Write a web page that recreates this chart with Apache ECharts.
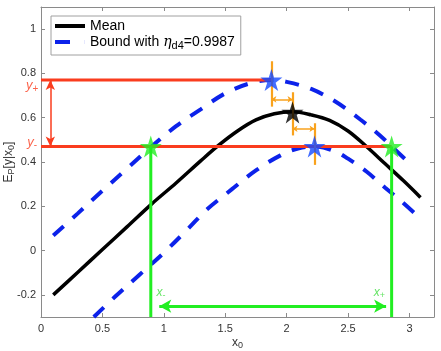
<!DOCTYPE html>
<html><head><meta charset="utf-8">
<script src="https://cdn.jsdelivr.net/npm/echarts@6/dist/echarts.min.js"></script>
<style>html,body{margin:0;padding:0;background:#fff}#c{width:441px;height:351px}</style>
</head><body><div id="c"></div>
<script>
// ---- axes ----
const xMin = 0, xMax = 3.2;
const yMin = -0.3, yMax = 1.1;
const xTicks = [0, 0.5, 1, 1.5, 2, 2.5, 3];
const yTicks = [-0.2, 0, 0.2, 0.4, 0.6, 0.8, 1];

// ---- curves ----
const meanX = [0.1, 0.3, 0.5, 0.7, 0.9, 1.1, 1.3, 1.45, 1.6, 1.75, 1.9, 2.05, 2.2, 2.35, 2.5, 2.65, 2.8, 2.95, 3.09];
const meanY = [-0.2, -0.098, 0.005, 0.107, 0.21, 0.305, 0.405, 0.477, 0.54, 0.59, 0.618, 0.627, 0.613, 0.588, 0.54, 0.47, 0.393, 0.316, 0.24];
const upperX = [0.1, 0.3, 0.5, 0.7, 0.9, 1.1, 1.3, 1.5, 1.7, 1.876, 2.0, 2.2, 2.4, 2.6, 2.76, 2.855, 3.0];
const upperY = [0.068, 0.168, 0.27, 0.37, 0.47, 0.562, 0.638, 0.71, 0.755, 0.77, 0.762, 0.73, 0.672, 0.592, 0.52, 0.47, 0.395];
const lowerX = [0.43, 0.6, 0.8, 1.0, 1.2, 1.35, 1.55, 1.75, 1.95, 2.1, 2.227, 2.4, 2.5, 2.65, 2.8, 2.92, 3.07];
const lowerY = [-0.3, -0.21, -0.11, -0.01, 0.1, 0.185, 0.275, 0.362, 0.43, 0.462, 0.47, 0.447, 0.415, 0.357, 0.285, 0.23, 0.155];

// ---- annotation values ----
const yPlus = 0.77, yMinus = 0.47;
const xMinus = 0.894, xPlus = 2.855;
const starBlueX = [1.876, 2.227], starBlueY = [0.77, 0.47];
const starBlackX = [2.048], starBlackY = [0.624];
const starGreenX = [xMinus, xPlus], starGreenY = [yMinus, yMinus];
const redArrowX = 0.076;
const greenArrowY = -0.251, greenArrowFrom = 0.963, greenArrowTo = 2.81;
const orangeBarX = [1.876, 2.048, 2.227];
const orangeBarLow = [0.65, 0.52, 0.387];
const orangeBarHigh = [0.855, 0.715, 0.575];
const orangeArrowY = [0.683, 0.55];
const orangeArrowFrom = [1.876, 2.048];
const orangeArrowTo = [2.048, 2.227];
const labelY = ['y+', 'y-'], labelYPosX = [-0.072, -0.072], labelYPosY = [0.745, 0.49];
const labelX = ['x-', 'x+'], labelXPosX = [0.978, 2.755], labelXPosY = [-0.189, -0.189];

const FONT = '"Liberation Sans", Arial, Helvetica, sans-serif';
const RED = '#fa3c1e', GREEN = '#22ee22', GREENTXT = '#3ddd3d', ORANGE = '#f9a21c';
const BLUE = '#0c22ea', BLUESTAR = '#1448ff', AXIS = '#8a8a8a', TXT = '#333';
const STAR = 'path://M100,0L122.45,69.1L195.1,69.1L136.3,111.8L158.8,180.9L100,138.2L41.2,180.9L63.7,111.8L4.9,69.1L77.55,69.1Z';

const pairs = (xs, ys) => xs.map((x, i) => [x, ys[i]]);

function subRich(color, size) {
  return {
    i: {fontStyle: 'italic', fontSize: size, lineHeight: size + 4, color: color, fontFamily: FONT},
    s: {fontSize: size - 3, lineHeight: size - 3, verticalAlign: 'bottom', color: color, fontFamily: FONT}
  };
}

function xAxisDef(pos, labels) {
  return {
    type: 'value', min: xMin, max: xMax, position: pos,
    axisLine: {show: true, onZero: false, lineStyle: {color: AXIS, width: 1}},
    axisTick: {show: true, inside: true, length: 4, customValues: xTicks, lineStyle: {color: AXIS}},
    axisLabel: {show: labels, customValues: xTicks, color: TXT, fontSize: 11, fontFamily: FONT, margin: 6},
    splitLine: {show: false},
    name: labels ? '{a|x}{s|0}' : '', nameLocation: 'middle', nameGap: 19, nameMoveOverlap: false,
    nameTextStyle: {rich: {
      a: {fontSize: 12, lineHeight: 14, color: TXT, fontFamily: FONT},
      s: {fontSize: 9, lineHeight: 9, verticalAlign: 'bottom', color: TXT, fontFamily: FONT}
    }}
  };
}
function yAxisDef(pos, labels) {
  return {
    type: 'value', min: yMin, max: yMax, position: pos,
    axisLine: {show: true, onZero: false, lineStyle: {color: AXIS, width: 1}},
    axisTick: {show: true, inside: true, length: 4, customValues: yTicks, lineStyle: {color: AXIS}},
    axisLabel: {show: labels, customValues: yTicks, color: TXT, fontSize: 11, fontFamily: FONT, margin: 5},
    splitLine: {show: false},
    name: labels ? '{a|E}{s|P}{a|[y|x}{s|0}{a|]}' : '', nameLocation: 'middle', nameRotate: 90, nameGap: 25, nameMoveOverlap: false,
    nameTextStyle: {rich: {
      a: {fontSize: 12, lineHeight: 14, color: TXT, fontFamily: FONT},
      s: {fontSize: 9, lineHeight: 9, verticalAlign: 'bottom', color: TXT, fontFamily: FONT}
    }}
  };
}

const orangeML = [];
orangeBarX.forEach((x, i) => orangeML.push([
  {coord: [x, orangeBarLow[i]], symbol: 'none', lineStyle: {width: 2.2}},
  {coord: [x, orangeBarHigh[i]], symbol: 'none'}
]));
orangeArrowY.forEach((y, i) => orangeML.push([
  {coord: [orangeArrowFrom[i], y], lineStyle: {width: 1.5}},
  {coord: [orangeArrowTo[i], y]}
]));

const chart = echarts.init(document.getElementById('c'), null, {renderer: 'canvas'});
chart.setOption({
  animation: false,
  backgroundColor: '#fff',
  grid: {left: 41, right: 7, top: 7, bottom: 34, containLabel: false, outerBoundsMode: 'none'},
  xAxis: [xAxisDef('bottom', true), xAxisDef('top', false)],
  yAxis: [yAxisDef('left', true), yAxisDef('right', false)],
  legend: {
    data: [
      {name: 'Mean', icon: 'path://M0,0h30v4h-30z'},
      {name: 'Bound', icon: 'path://M0,0h15v4h-15zM29.9,0h0.1v4h-0.1z'}
    ],
    orient: 'vertical', left: 51, top: 16,
    backgroundColor: '#fff', borderColor: '#a0a0a0', borderWidth: 1, borderRadius: 0,
    padding: [3, 6, 4, 4], itemGap: 2, itemWidth: 30, itemHeight: 4, symbolKeepAspect: false,
    selectedMode: false,
    formatter: n => n === 'Mean' ? '{a|Mean}' : '{a|Bound with }{g|η}{s|d4}{a|=0.9987}',
    textStyle: {color: '#000', fontSize: 14, fontFamily: FONT, rich: {
      a: {fontSize: 14, lineHeight: 18, color: '#000', fontFamily: FONT},
      g: {fontSize: 14, lineHeight: 18, fontStyle: 'italic', color: '#000', fontFamily: '"DejaVu Serif", serif'},
      s: {fontSize: 11, lineHeight: 11, verticalAlign: 'bottom', color: '#000', fontFamily: FONT}
    }}
  },
  series: [
    {name: 'Mean', type: 'line', data: pairs(meanX, meanY), color: '#000', showSymbol: false, smooth: 0.35,
      lineStyle: {color: '#000', width: 3.5, join: 'round'}, z: 2},
    {name: 'Bound', type: 'line', data: pairs(upperX, upperY), color: BLUE, showSymbol: false, smooth: 0.35,
      lineStyle: {color: BLUE, width: 4, type: [14, 12]}, z: 2},
    {name: 'Bound', type: 'line', data: pairs(lowerX, lowerY), color: BLUE, showSymbol: false, smooth: 0.35,
      lineStyle: {color: BLUE, width: 4, type: [14, 12]}, z: 2},
    {name: 'yPlusLine', type: 'line', data: [[xMin, yPlus], [starBlueX[0], yPlus]], showSymbol: false,
      lineStyle: {color: RED, width: 3}, z: 3},
    {name: 'yMinusLine', type: 'line', data: [[xMin, yMinus], [xPlus, yMinus]], showSymbol: false,
      lineStyle: {color: RED, width: 3}, z: 3,
      markLine: {silent: true, animation: false, symbol: ['arrow', 'arrow'], symbolSize: [7, 10],
        label: {show: false}, emphasis: {disabled: true},
        lineStyle: {color: RED, width: 1.5, type: 'solid'},
        data: [[{coord: [redArrowX, yPlus]}, {coord: [redArrowX, yMinus]}]]}},
    {name: 'xMinusLine', type: 'line', data: [[xMinus, yMinus], [xMinus, yMin]], showSymbol: false,
      lineStyle: {color: GREEN, width: 3}, z: 3},
    {name: 'xPlusLine', type: 'line', data: [[xPlus, yMinus], [xPlus, yMin]], showSymbol: false,
      lineStyle: {color: GREEN, width: 3}, z: 3,
      markLine: {silent: true, animation: false, symbol: ['arrow', 'arrow'], symbolSize: [10, 12],
        label: {show: false}, emphasis: {disabled: true},
        lineStyle: {color: GREEN, width: 3, type: 'solid'},
        data: [[{coord: [greenArrowFrom, greenArrowY]}, {coord: [greenArrowTo, greenArrowY]}]]}},
    {name: 'orange', type: 'line', data: [], showSymbol: false, z: 4,
      markLine: {silent: true, animation: false, symbol: ['arrow', 'arrow'], symbolSize: [5, 5],
        label: {show: false}, emphasis: {disabled: true},
        lineStyle: {color: ORANGE, width: 1.5, type: 'solid'},
        data: orangeML}},
    {name: 'starsBlue', type: 'scatter', data: pairs(starBlueX, starBlueY), symbol: STAR, symbolSize: 22,
      itemStyle: {color: BLUESTAR}, z: 10, silent: true},
    {name: 'starsBlack', type: 'scatter', data: pairs(starBlackX, starBlackY), symbol: STAR, symbolSize: 22,
      itemStyle: {color: '#000'}, z: 10, silent: true},
    {name: 'starsGreen', type: 'scatter', data: pairs(starGreenX, starGreenY), symbol: STAR, symbolSize: 22,
      itemStyle: {color: GREEN}, z: 10, silent: true},
    {name: 'yLabels', type: 'scatter', clip: false, symbolSize: 0, silent: true, z: 10,
      data: labelY.map((t, i) => ({value: [labelYPosX[i], labelYPosY[i]], name: t})),
      label: {show: true, position: 'inside', formatter: p => '{i|' + p.name[0] + '}{s|' + p.name[1] + '}', rich: subRich(RED, 13)}},
    {name: 'xLabels', type: 'scatter', clip: false, symbolSize: 0, silent: true, z: 10,
      data: labelX.map((t, i) => ({value: [labelXPosX[i], labelXPosY[i]], name: t})),
      label: {show: true, position: 'inside', formatter: p => '{i|' + p.name[0] + '}{s|' + p.name[1] + '}', rich: subRich(GREENTXT, 12)}}
  ]
});
</script>
</body></html>
